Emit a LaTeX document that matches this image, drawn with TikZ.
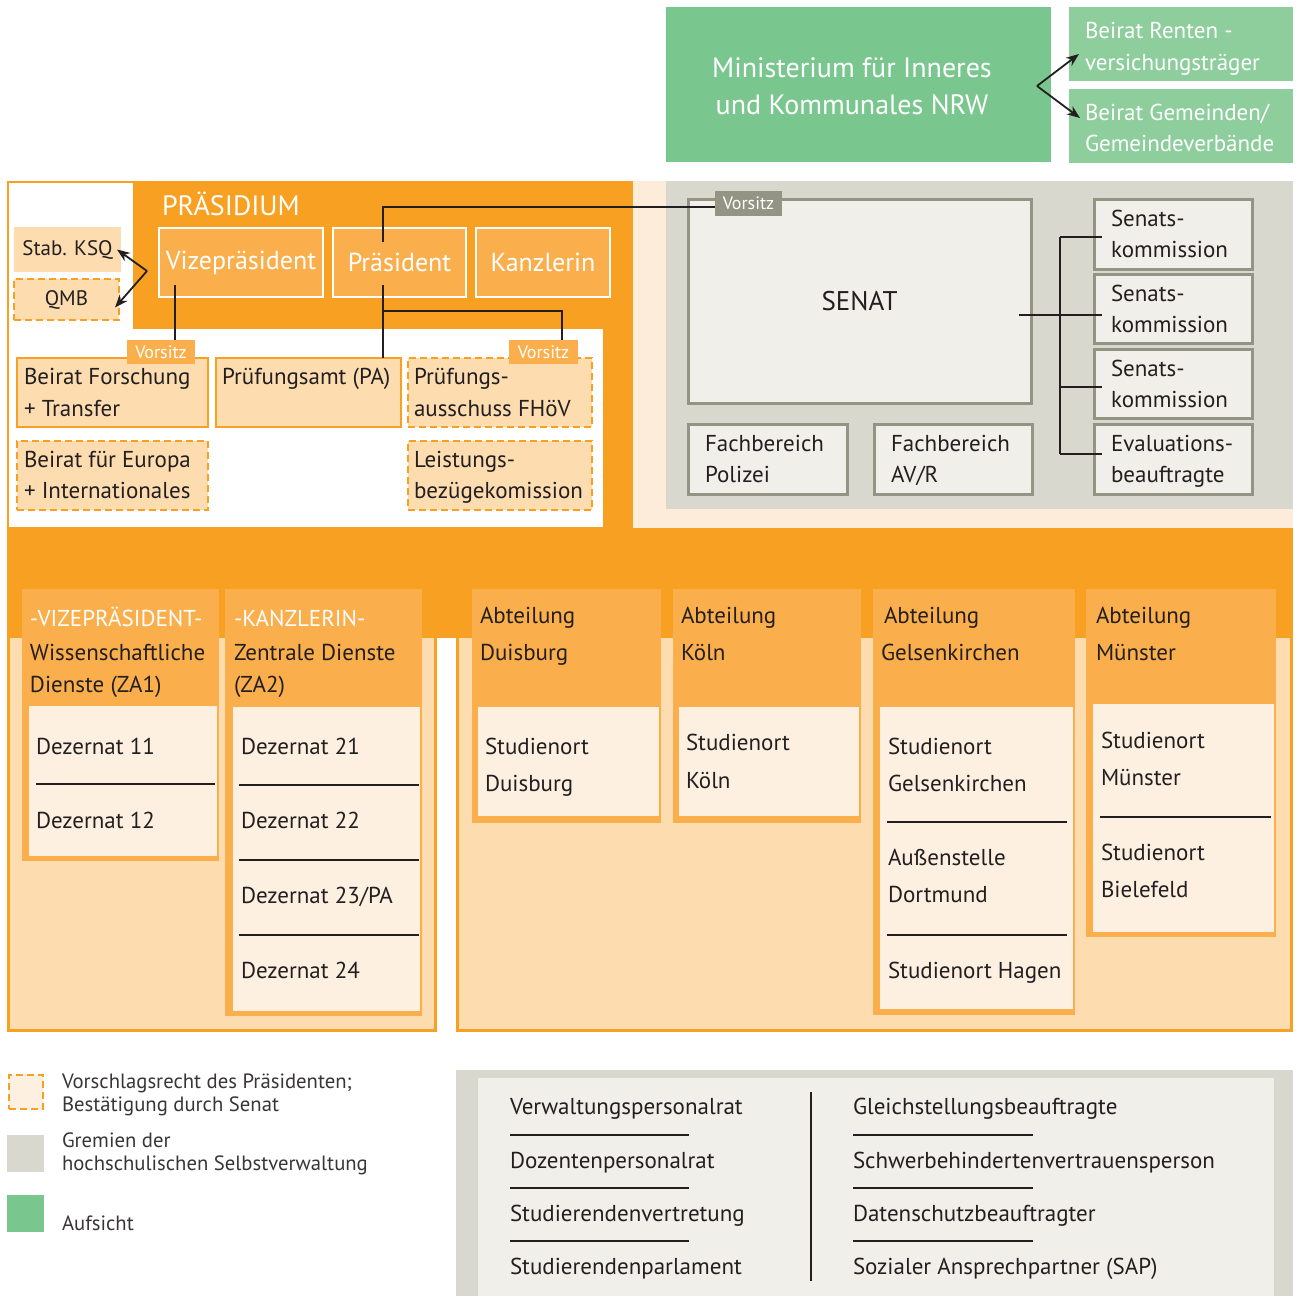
\documentclass[tikz,border=0pt]{standalone}
\usepackage{fontspec}
\setmainfont{PT Sans}
\usetikzlibrary{arrows.meta,calc}
\definecolor{org}{RGB}{247,160,33}
\definecolor{lorg}{RGB}{251,175,76}
\definecolor{peach}{RGB}{253,220,176}
\definecolor{cream}{RGB}{254,240,225}
\definecolor{rpeach}{RGB}{253,236,217}
\definecolor{gpanel}{RGB}{217,216,207}
\definecolor{sfill}{RGB}{241,239,234}
\definecolor{sbord}{RGB}{148,148,132}
\definecolor{grn}{RGB}{122,198,143}
\definecolor{lgrn}{RGB}{141,206,156}
\definecolor{dark}{RGB}{35,31,32}
\newcommand\mybox[7]{\node[inner sep=0pt,outer sep=0pt,anchor=north west,minimum width={#5-#3},minimum height={#6-#4},#2] (#1) at (#3,#4) {#7};}
\newcommand\tx[5][]{\node[txt,#1] (#2) at (#3,#4) {#5};}
\begin{document}
\begin{tikzpicture}[x=1pt,y=-1pt,
  txt/.style={inner sep=0pt,outer sep=0pt,anchor=mid west,yshift=-3pt,text=dark,font=\fontsize{23}{27}\selectfont},
  wtxt/.style={txt,text=white},
  ltxt/.style={txt,text=dark!90,font=\fontsize{20.7}{24}\selectfont},
  pbox/.style={fill=lorg,draw=white,line width=2.5pt,text=white,font=\fontsize{26}{30}\selectfont},
  sbox/.style={fill=peach,draw=org,line width=2.5pt},
  dbox/.style={fill=peach,draw=org,line width=2.5pt,dash pattern=on 7pt off 4pt},
  tabbox/.style={fill=lorg,text=white,font=\fontsize{18}{22}\selectfont},
  gtab/.style={fill=sbord,text=white,font=\fontsize{18}{22}\selectfont},
  senbox/.style={fill=sfill,draw=sbord,line width=3pt,text=dark},
  colhead/.style={fill=lorg},
  colbody/.style={fill=cream,draw=lorg,line width=1.5pt},
  conn/.style={draw=dark,line width=2pt},
  sepline/.style={draw=dark,line width=2.2pt},
  arr/.style={draw=dark,line width=1.8pt,-{Stealth[length=13pt,width=10pt]}}]
\useasboundingbox (0,0) rectangle (1302,1296);
% ---------- background areas
\fill[org] (7,181) rectangle (633,530);
\fill[white] (9,183) rectangle (133,329);
\fill[white] (9,329) rectangle (603,527);
\fill[rpeach] (633,181) rectangle (1293,530);
\fill[gpanel] (666,181) rectangle (1293,509);
\fill[org] (7,528) rectangle (1293,638);
\fill[peach] (7,638) rectangle (437,1032);
\draw[org,line width=3pt] (8.5,638) -- (8.5,1030.5) -- (435.5,1030.5) -- (435.5,638);
\fill[peach] (456,638) rectangle (1293,1032);
\draw[org,line width=3pt] (457.5,638) -- (457.5,1030.5) -- (1291.5,1030.5) -- (1291.5,638);
% ---------- green top
\mybox{mini}{fill=grn}{666}{7}{1051}{162}{}
\node[wtxt,anchor=center,align=center,yshift=0pt,font=\fontsize{28}{37}\selectfont] (minitxt) at (852,83) {Ministerium für Inneres\\und Kommunales NRW};
\mybox{renten}{fill=lgrn}{1069}{7}{1293}{81}{}
\tx[wtxt]{r1}{1085}{30}{Beirat Renten -}
\tx[wtxt]{r2}{1085}{62}{versichungsträger}
\mybox{gem}{fill=lgrn}{1069}{89}{1293}{163}{}
\tx[wtxt]{g1}{1085}{112}{Beirat Gemeinden/}
\tx[wtxt]{g2}{1085}{143}{Gemeindeverbände}
\coordinate (mj) at (1037,86);
\coordinate (mt1) at (1079,54);
\coordinate (mt2) at (1080,118);
\draw[arr] (mj) -- (mt1);
\draw[arr] (mj) -- (mt2);
% ---------- Praesidium
\tx[wtxt,font=\fontsize{28}{32}\selectfont]{praes}{162}{207}{PRÄSIDIUM}
\mybox{vize}{pbox}{159}{228}{323}{297}{Vizepräsident}
\mybox{pres}{pbox}{333}{228}{466}{297}{Präsident}
\mybox{kanz}{pbox}{476}{228}{610}{297}{Kanzlerin}
\mybox{ksq}{fill=peach,text=dark,font=\fontsize{21}{25}\selectfont}{14}{227}{121}{272}{Stab. KSQ}
\mybox{qmb}{dbox,text=dark,font=\fontsize{21}{25}\selectfont}{14}{279}{119}{320}{QMB}
\coordinate (kj) at (147,271);
\draw[arr] (kj) -- ($(ksq.east)+(-4,0)$);
\draw[arr] (kj) -- ($(qmb.east)+(-4,8)$);
\mybox{bft}{sbox}{17}{358}{208}{427}{}
\mybox{pa}{sbox}{216}{358}{401}{427}{}
\mybox{pafh}{dbox}{408}{358}{592}{427}{}
\mybox{bei}{dbox}{17}{441}{208}{510}{}
\mybox{lbk}{dbox}{408}{441}{592}{510}{}
\mybox{vt1}{tabbox}{127}{340}{195}{364}{Vorsitz}
\mybox{vt2}{tabbox}{509}{340}{578}{364}{Vorsitz}
\tx{bft1}{24}{379}{Beirat Forschung}
\tx{bft2}{24}{411}{+ Transfer}
\tx{pa1}{222}{379}{Prüfungsamt (PA)}
\tx{pf1}{414}{379}{Prüfungs-}
\tx{pf2}{414}{411}{ausschuss FHöV}
\tx{be1}{24}{462}{Beirat für Europa}
\tx{be2}{24}{493}{+ Internationales}
\tx{lb1}{414}{462}{Leistungs-}
\tx{lb2}{414}{493}{bezügekomission}
% ---------- Senat
\mybox{senat}{senbox,font=\fontsize{27}{30}\selectfont}{688}{199}{1031}{403}{SENAT}
\mybox{fbp}{senbox}{688}{424}{847}{494}{}
\mybox{fbav}{senbox}{874}{424}{1032}{494}{}
\mybox{sk1}{senbox}{1094}{199}{1252}{269}{}
\mybox{sk2}{senbox}{1094}{274}{1252}{343}{}
\mybox{sk3}{senbox}{1094}{349}{1252}{418}{}
\mybox{eva}{senbox}{1094}{424}{1252}{494}{}
\mybox{vt3}{gtab}{715}{191}{782}{216}{Vorsitz}
\tx{fb1}{705}{446}{Fachbereich}
\tx{fb2}{705}{477}{Polizei}
\tx{fb3}{891}{446}{Fachbereich}
\tx{fb4}{891}{477}{AV/R}
\tx{sk1a}{1111}{221}{Senats-}
\tx{sk1b}{1111}{252}{kommission}
\tx{sk2a}{1111}{296}{Senats-}
\tx{sk2b}{1111}{327}{kommission}
\tx{sk3a}{1111}{371}{Senats-}
\tx{sk3b}{1111}{402}{kommission}
\tx{ev1}{1111}{446}{Evaluations-}
\tx{ev2}{1111}{477}{beauftragte}
% ---------- connectors top
\coordinate (v1) at (175,285);
\draw[conn] (v1) -- (v1 |- vt1.north);
\coordinate (p1) at (383,285);
\draw[conn] (p1) -- (p1 |- pa.north);
\coordinate (p2) at (383,311);
\coordinate (p3) at (562,311);
\draw[conn] (p2) -- (p3) -- (p3 |- vt2.north);
\coordinate (p4) at (383,242);
\coordinate (p5) at (383,207);
\draw[conn] (p4) -- (p5) -- (p5 -| vt3.west);
\coordinate (s0) at (1019,315);
\coordinate (sj) at (1060,315);
\coordinate (sv1) at (1060,237);
\coordinate (sv3) at (1060,387);
\coordinate (sv4) at (1060,454);
\draw[conn] (s0) -- (sj);
\draw[conn] (sv1) -- (sv4);
\draw[conn] (sv1) -- ($(sv1 -| sk1.west)+(8,0)$);
\draw[conn] (sj) -- ($(sj -| sk2.west)+(8,0)$);
\draw[conn] (sv3) -- ($(sv3 -| sk3.west)+(8,0)$);
\draw[conn] (sv4) -- ($(sv4 -| eva.west)+(8,0)$);
% ---------- columns
\mybox{c1}{colhead}{22}{589}{219}{861}{}
\mybox{c1b}{colbody}{28}{705}{218}{857}{}
\mybox{c2}{colhead}{225}{589}{422}{1016}{}
\mybox{c2b}{colbody}{232}{706}{421}{1012}{}
\mybox{c3}{colhead}{472}{589}{661}{823}{}
\mybox{c3b}{colbody}{477}{706}{660}{817}{}
\mybox{c4}{colhead}{673}{589}{861}{823}{}
\mybox{c4b}{colbody}{678}{706}{860}{817}{}
\mybox{c5}{colhead}{873}{589}{1075}{1015}{}
\mybox{c5b}{colbody}{879}{706}{1074}{1010}{}
\mybox{c6}{colhead}{1086}{589}{1276}{937}{}
\mybox{c6b}{colbody}{1092}{703}{1275}{933}{}
\tx[wtxt]{h1a}{30}{618}{-VIZEPRÄSIDENT-}
\tx{h1b}{30}{655}{Wissenschaftliche}
\tx{h1c}{30}{687}{Dienste (ZA1)}
\tx[wtxt]{h2a}{234}{618}{-KANZLERIN-}
\tx{h2b}{234}{655}{Zentrale Dienste}
\tx{h2c}{234}{687}{(ZA2)}
\tx{h3a}{480}{618}{Abteilung}
\tx{h3b}{480}{655}{Duisburg}
\tx{h4a}{681}{618}{Abteilung}
\tx{h4b}{681}{655}{Köln}
\tx{h5a}{884}{618}{Abteilung}
\tx{h5b}{881}{655}{Gelsenkirchen}
\tx{h6a}{1096}{618}{Abteilung}
\tx{h6b}{1096}{655}{Münster}
\tx{d11}{36}{749}{Dezernat 11}
\draw[sepline] (36,784) -- (215,784);
\tx{d12}{36}{823}{Dezernat 12}
\tx{d21}{241}{749}{Dezernat 21}
\draw[sepline] (239,785) -- (419,785);
\tx{d22}{241}{823}{Dezernat 22}
\draw[sepline] (239,860) -- (419,860);
\tx{d23}{241}{898}{Dezernat 23/PA}
\draw[sepline] (239,935) -- (419,935);
\tx{d24}{241}{973}{Dezernat 24}
\tx{du1}{485}{749}{Studienort}
\tx{du2}{485}{786}{Duisburg}
\tx{ko1}{686}{745}{Studienort}
\tx{ko2}{686}{783}{Köln}
\tx{ge1}{888}{749}{Studienort}
\tx{ge2}{888}{786}{Gelsenkirchen}
\draw[sepline] (887,822) -- (1067,822);
\tx{ge3}{888}{860}{Außenstelle}
\tx{ge4}{888}{897}{Dortmund}
\draw[sepline] (887,935) -- (1067,935);
\tx{ge5}{888}{973}{Studienort Hagen}
\tx{mu1}{1101}{743}{Studienort}
\tx{mu2}{1101}{780}{Münster}
\draw[sepline] (1100,817) -- (1271,817);
\tx{mu3}{1101}{855}{Studienort}
\tx{mu4}{1101}{892}{Bielefeld}
% ---------- legend
\mybox{lg1}{dbox,fill=cream}{9}{1075}{43}{1109}{}
\mybox{lg2}{fill=gpanel}{7}{1135}{44}{1172}{}
\mybox{lg3}{fill=grn}{7}{1195}{44}{1232}{}
\tx[ltxt]{l1}{62}{1080}{Vorschlagsrecht des Präsidenten;}
\tx[ltxt]{l2}{62}{1103}{Bestätigung durch Senat}
\tx[ltxt]{l3}{62}{1139}{Gremien der}
\tx[ltxt]{l4}{62}{1162}{hochschulischen Selbstverwaltung}
\tx[ltxt]{l5}{62}{1222}{Aufsicht}
% ---------- bottom right
\fill[gpanel] (456,1070) rectangle (1293,1296);
\fill[sfill] (478,1078) rectangle (1274,1296);
\draw[draw=dark,line width=1.3pt] (811,1092) -- (811,1281);
\tx{b1}{510}{1109}{Verwaltungspersonalrat}
\draw[sepline] (510,1135) -- (689,1135);
\tx{b2}{510}{1163}{Dozentenpersonalrat}
\draw[sepline] (510,1188) -- (689,1188);
\tx{b3}{510}{1216}{Studierendenvertretung}
\draw[sepline] (510,1241) -- (689,1241);
\tx{b4}{510}{1269}{Studierendenparlament}
\tx{b5}{853}{1109}{Gleichstellungsbeauftragte}
\draw[sepline] (853,1135) -- (1033,1135);
\tx{b6}{853}{1163}{Schwerbehindertenvertrauensperson}
\draw[sepline] (853,1188) -- (1033,1188);
\tx{b7}{853}{1216}{Datenschutzbeauftragter}
\draw[sepline] (853,1241) -- (1033,1241);
\tx{b8}{853}{1269}{Sozialer Ansprechpartner (SAP)}
\end{tikzpicture}
\end{document}
